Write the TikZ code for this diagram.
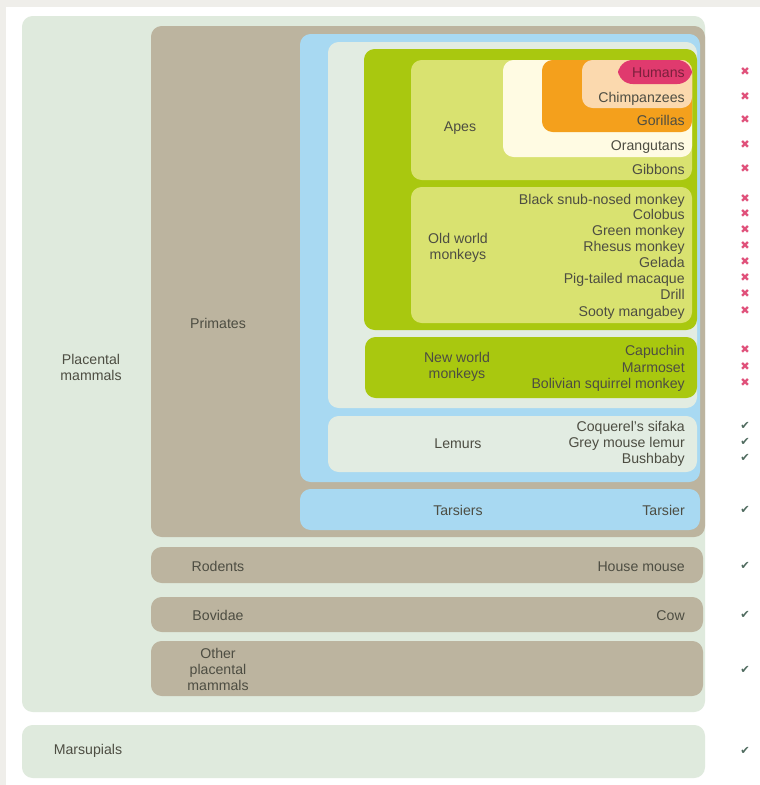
\documentclass[tikz,border=0pt]{standalone}
\usepackage{fontspec}
\setmainfont{Liberation Sans}
\newfontfamily\symfont{DejaVu Sans}
\definecolor{frame}{HTML}{EFEEEA}
\definecolor{placental}{HTML}{DFEADD}
\definecolor{tan}{HTML}{BCB49F}
\definecolor{sky}{HTML}{A8D9F2}
\definecolor{pale}{HTML}{E2ECE2}
\definecolor{leaf}{HTML}{A9C80F}
\definecolor{lime}{HTML}{D9E270}
\definecolor{cream}{HTML}{FFFBE3}
\definecolor{amber}{HTML}{F4A01C}
\definecolor{peach}{HTML}{FBD9AE}
\definecolor{rose}{HTML}{E03A6E}
\definecolor{ink}{HTML}{4D4D42}
\definecolor{nocol}{HTML}{E0507A}
\definecolor{yescol}{HTML}{4F6B5F}

\begin{document}
\begin{tikzpicture}[x=0.75pt,y=-0.75pt,
  font=\fontsize{10.6}{12}\selectfont,
  box/.style={rounded corners=8pt},
  grp/.style={text=ink,align=center,inner sep=0pt},
  sp/.style={text=ink,anchor=base east,inner sep=0pt},
  no/.style={text=nocol,font=\symfont\fontsize{8.5}{8.5}\selectfont,inner sep=0pt},
  yes/.style={text=yescol,font=\symfont\fontsize{8.5}{8.5}\selectfont,inner sep=0pt}]
\useasboundingbox (0,0) rectangle (760,785);
\fill[frame] (0,0) rectangle (760,785);
\fill[white] (6,7) rectangle (760,785);
% nested groups
\fill[box,placental] (22,16) rectangle (705,712);
\fill[box,tan] (151,26) rectangle (705,537);
\fill[box,sky] (300,34) rectangle (700,482);
\fill[box,pale] (328,42) rectangle (697,408);
\fill[box,leaf] (364,49) rectangle (697,330);
\fill[box,lime] (411,60) rectangle (692,180);
\fill[box,cream] (503,60) rectangle (692,157);
\fill[box,amber] (542,60) rectangle (692,132);
\fill[box,peach] (582,60) rectangle (692,108);
\fill[rounded corners=11pt,rose] (618,60) rectangle (692,84);
\fill[box,lime] (411,187) rectangle (692,323);
\fill[box,leaf] (365,337) rectangle (697,398);
\fill[box,pale] (328,416) rectangle (697,472);
\fill[box,sky] (300,489) rectangle (700,530);
\fill[box,tan] (151,547) rectangle (703,583);
\fill[box,tan] (151,597) rectangle (703,632);
\fill[box,tan] (151,641) rectangle (703,696);
\fill[box,placental] (22,725) rectangle (705,778);
% group labels
\node[grp] (placental) at (91,367) {Placental\\mammals};
\node[grp] (primates) at (218,323) {Primates};
\node[grp] (apes) at (460,128) {Apes};
\node[grp] (oldworld) at (458,248) {Old world\\monkeys};
\node[grp] (newworld) at (457,367) {New world\\monkeys};
\node[grp] (lemurs) at (458,444) {Lemurs};
\node[grp] (tarsiers) at (458,510) {Tarsiers};
\node[grp] (rodents) at (218,566) {Rodents};
\node[grp] (bovidae) at (218,615) {Bovidae};
\node[grp] (other) at (218,669) {Other\\placental\\mammals};
\node[grp] (marsupials) at (88,751) {Marsupials};
% species (baseline about 5px under the row centre)
\node[sp,text=rose!55!black] (humans) at (685,77) {Humans};
\foreach \name/\y [count=\i] in {Chimpanzees/97,Gorillas/120,Orangutans/145,Gibbons/169,
  Black snub-nosed monkey/199,Colobus/214,Green monkey/230,Rhesus monkey/246,
  Gelada/262,Pig-tailed macaque/278,Drill/294,Sooty mangabey/311,
  Capuchin/350,Marmoset/367,Bolivian squirrel monkey/383,
  Coquerel's sifaka/426,Grey mouse lemur/442,Bushbaby/458,
  Tarsier/510,House mouse/566,Cow/615}
  \node[sp] (sp\i) at (685,\y+5) {\name};
% marks
\foreach \y [count=\i] in {72,97,120,145,169,199,214,230,246,262,278,294,311,350,367,383}
  \node[no] (no\i) at (745,\y) {✖};
\foreach \y [count=\i] in {426,442,458,510,566,615,670,751}
  \node[yes] (yes\i) at (745,\y) {✔};
\end{tikzpicture}
\end{document}
